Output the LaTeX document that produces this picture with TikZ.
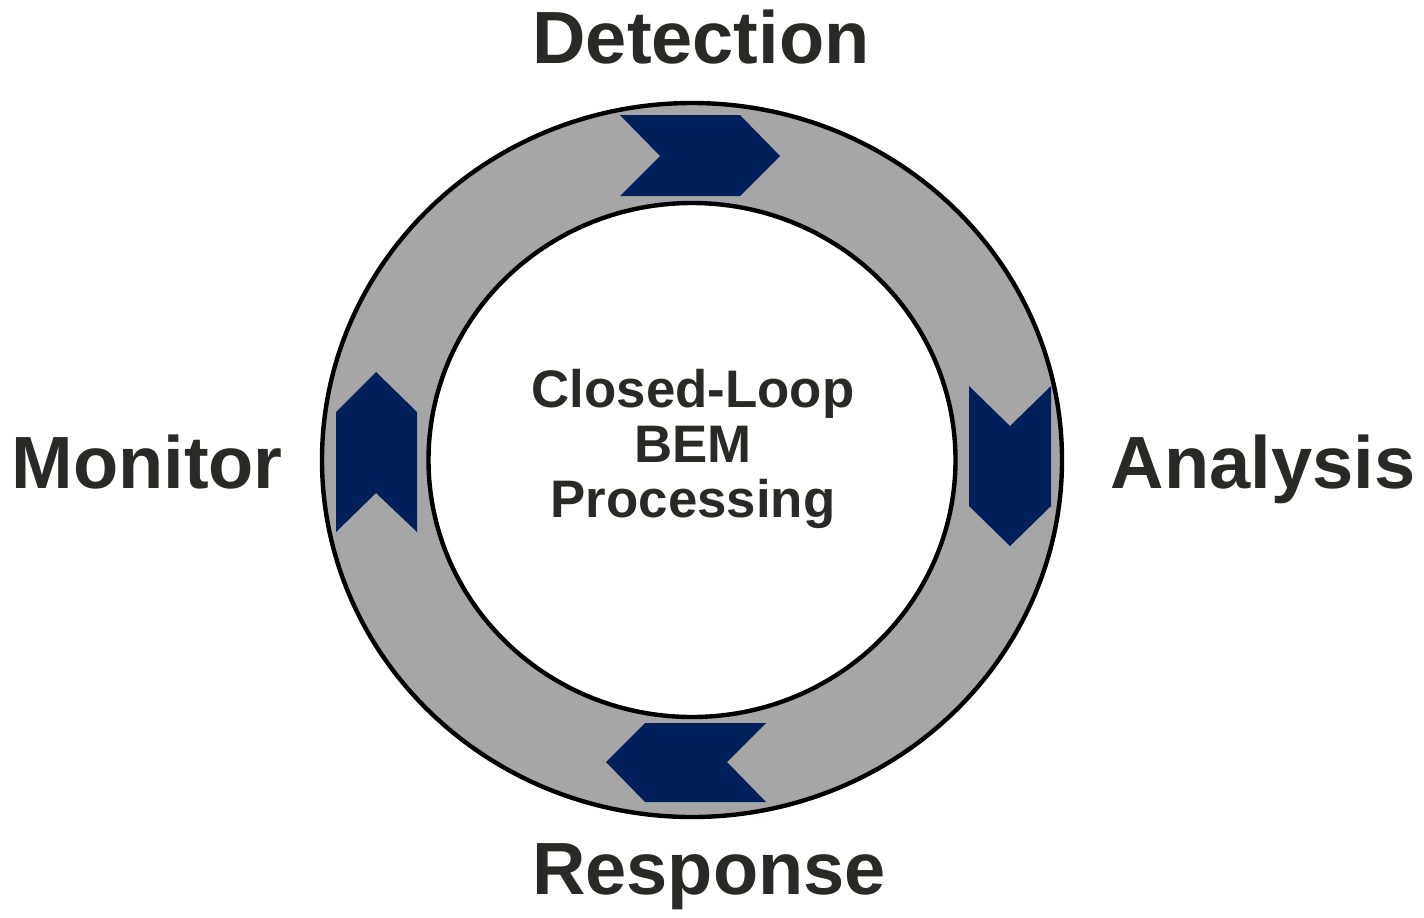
\documentclass[tikz,border=0pt]{standalone}
\usepackage{fontspec}
\setmainfont{Liberation Sans}
\definecolor{navyblock}{RGB}{0,31,91}
\definecolor{ringgray}{RGB}{166,166,166}
\definecolor{labelgray}{RGB}{41,41,37}

\begin{document}
\begin{tikzpicture}[x=0.5pt,y=-0.5pt,
    stage/.style={text=labelgray,font=\fontsize{37}{40}\selectfont\bfseries,anchor=base,inner sep=0pt},
    block/.style={fill=navyblock},
    rim/.style={draw=black,line width=2.2pt}]
                \useasboundingbox (0,0) rectangle (1424,917);
                \fill[ringgray,even odd rule] (692,460) ellipse [x radius=185pt,y radius=178.5pt]
                    (692,460) ellipse [x radius=131.75pt,y radius=128.5pt];
                \draw[rim] (692,460) ellipse [x radius=185pt,y radius=178.5pt];
                \draw[rim,fill=white] (692,460) ellipse [x radius=131.75pt,y radius=128.5pt];
                \fill[block] (620,115) -- (740,115) -- (780,156) -- (740,196) -- (620,196) -- (660,156) -- cycle;
                \fill[block] (969,386) -- (1010,426) -- (1051,386) -- (1051,506) -- (1010,546) -- (969,506) -- cycle;
                \fill[block] (766,723) -- (645,723) -- (606,762) -- (645,802) -- (766,802) -- (727,762) -- cycle;
                \fill[block] (336,532) -- (336,412) -- (376,372) -- (417,412) -- (417,532) -- (376,493) -- cycle;
                \node[stage] (det) at (701,63) {Detection};
                \node[stage] (ana) at (1263,488) {Analysis};
                \node[stage] (res) at (709,894) {Response};
                \node[stage] (mon) at (147,488) {Monitor};
                \node[text=labelgray,font=\fontsize{26.4}{27.5}\selectfont\bfseries,align=center,anchor=base,inner sep=0pt] (core) at (693,517)
                    {Closed-Loop\\BEM\\Processing};
            \end{tikzpicture}
\end{document}
